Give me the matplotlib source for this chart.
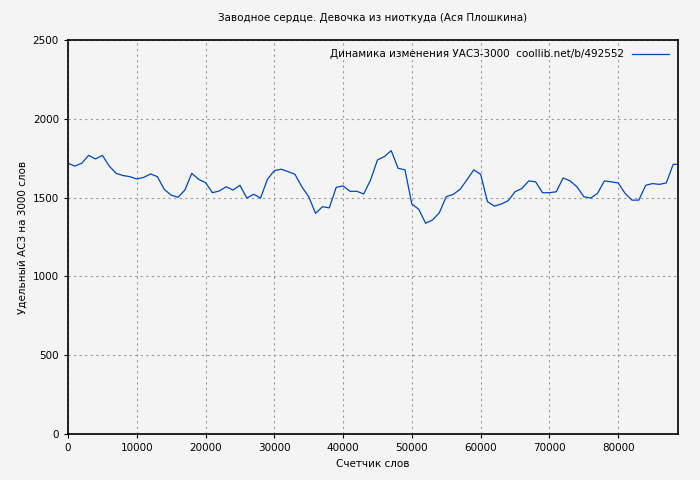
import matplotlib
matplotlib.use("Agg")
import matplotlib.pyplot as plt

words = list(range(0, 89000, 1000))
values = [1718,1700,1718,1768,1745,1768,1700,1654,1640,1633,1618,1628,1650,1633,1552,1516,1502,1548,1654,1616,
          1595,1531,1542,1569,1548,1578,1497,1521,1497,1616,1671,1680,1665,1648,1569,1506,1400,1442,1435,1565,
          1574,1540,1540,1523,1612,1739,1760,1798,1686,1676,1459,1426,1337,1358,1404,1506,1520,1552,1612,1676,
          1648,1474,1446,1459,1480,1537,1558,1606,1600,1531,1531,1537,1625,1606,1569,1506,1497,1527,1606,1600,
          1593,1527,1484,1484,1578,1589,1584,1593,1711]
words.append(88700); values.append(1711)

bg = "#f4f4f4"
fig = plt.figure(figsize=(7, 4.8), dpi=100, facecolor=bg)
ax = fig.add_axes([68/700, 46/480, 610/700, 394/480], facecolor=bg)
ax.plot(words, values, color="#0047b3", lw=0.9, label="Динамика изменения УАСЗ-3000  coollib.net/b/492552")
ax.set_xlim(0, 88700)
ax.set_ylim(0, 2500)
ax.set_xticks(range(0, 88000, 10000))
ax.set_yticks(range(0, 2501, 500))
ax.grid(True, color="#999999", ls=(0, (2, 3)), lw=0.8)
ax.tick_params(labelsize=7.5, length=3)
for s in ax.spines.values():
    s.set_linewidth(1.2)
ax.set_title("Заводное сердце. Девочка из ниоткуда (Ася Плошкина)", fontsize=7.5, pad=14)
ax.set_xlabel("Счетчик слов", fontsize=7.5)
ax.set_ylabel("Удельный АСЗ на 3000 слов", fontsize=7.5)
leg = ax.legend(loc="upper right", fontsize=7.5, frameon=False, markerfirst=False, handlelength=3.5)
fig.savefig("out.png", dpi=100, facecolor=bg)
